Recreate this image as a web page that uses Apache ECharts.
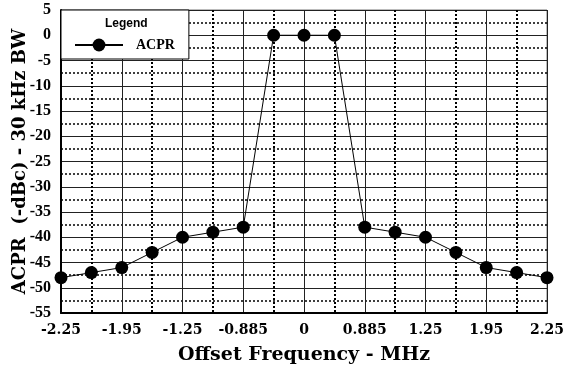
<!DOCTYPE html>
<html>
<head>
<meta charset="utf-8">
<script src="https://cdn.jsdelivr.net/npm/echarts@6/dist/echarts.min.js"></script>
<style>
  html, body { margin: 0; padding: 0; background: #fff; }
  #main { width: 577px; height: 376px; }
</style>
</head>
<body>
<div id="main"></div>
<script>
// tick labels shown under every other point (index 0, 2, ... 16)
var xLabels = ['-2.25', '-1.95', '-1.25', '-0.885', '0', '0.885', '1.25', '1.95', '2.25'];
// ACPR values, one per point, left to right
var acpr = [-48, -47, -46, -43, -40, -39, -38, 0, 0, 0, -38, -39, -40, -43, -46, -47, -48];

var serif = 'Liberation Serif';
var wide = 'DejaVu Serif';

var chart = echarts.init(document.getElementById('main'));
chart.setOption({
    animation: false,
    backgroundColor: '#fff',
    title: {
        text: 'Legend',
        left: 100,
        top: 13,
        textStyle: {
            fontFamily: 'Liberation Sans',
            fontWeight: 'bold',
            fontSize: 12,
            color: '#000'
        }
    },
    legend: {
        left: 61,
        top: 10,
        padding: [28, 14, 7, 13],
        backgroundColor: '#fff',
        borderColor: '#000',
        borderWidth: 1,
        itemWidth: 48,
        itemHeight: 16,
        textStyle: {
            fontFamily: serif,
            fontWeight: 'bold',
            fontSize: 14,
            color: '#000',
            padding: [0, 0, 0, 8]
        },
        data: ['ACPR']
    },
    grid: {
        left: 61,
        right: 30,
        top: 10,
        bottom: 63,
        outerBoundsMode: 'none',
        containLabel: false,
        show: true,
        borderColor: '#777',
        borderWidth: 1
    },
    xAxis: {
        type: 'value',
        min: 0,
        max: 16,
        interval: 2,
        name: 'Offset Frequency - MHz',
        nameLocation: 'middle',
        nameGap: 33,
        nameMoveOverlap: false,
        nameTextStyle: { fontFamily: wide, fontWeight: 'bold', fontSize: 19, color: '#000' },
        axisLine: { show: true, onZero: false, lineStyle: { color: '#000', width: 2 } },
        axisTick: { show: false },
        axisLabel: {
            margin: 10,
            fontFamily: wide,
            fontWeight: 'bold',
            fontSize: 14,
            color: '#000',
            formatter: function (v) { return xLabels[v / 2]; }
        },
        splitLine: { show: true, lineStyle: { color: '#222', width: 1 } },
        minorTick: { show: false, splitNumber: 2 },
        minorSplitLine: { show: true, lineStyle: { color: '#000', width: 2, type: [2, 2] } }
    },
    yAxis: {
        type: 'value',
        min: -55,
        max: 5,
        interval: 5,
        name: 'ACPR  (-dBc) - 30 kHz BW',
        nameLocation: 'middle',
        nameGap: 32,
        nameMoveOverlap: false,
        nameTextStyle: { fontFamily: wide, fontWeight: 'bold', fontSize: 18, color: '#000' },
        axisLine: { show: true, onZero: false, lineStyle: { color: '#000', width: 2 } },
        axisTick: { show: false },
        axisLabel: {
            margin: 10,
            fontFamily: serif,
            fontWeight: 'bold',
            fontSize: 16,
            color: '#000'
        },
        splitLine: { show: true, lineStyle: { color: '#222', width: 1 } },
        minorTick: { show: false, splitNumber: 2 },
        minorSplitLine: { show: true, lineStyle: { color: '#000', width: 1.5, type: [2, 2] } }
    },
    series: [{
        name: 'ACPR',
        type: 'line',
        data: acpr.map(function (v, i) { return [i, v]; }),
        symbol: 'circle',
        symbolSize: 13,
        clip: false,
        lineStyle: { color: '#000', width: 1 },
        itemStyle: { color: '#000' }
    }]
});
</script>
</body>
</html>
